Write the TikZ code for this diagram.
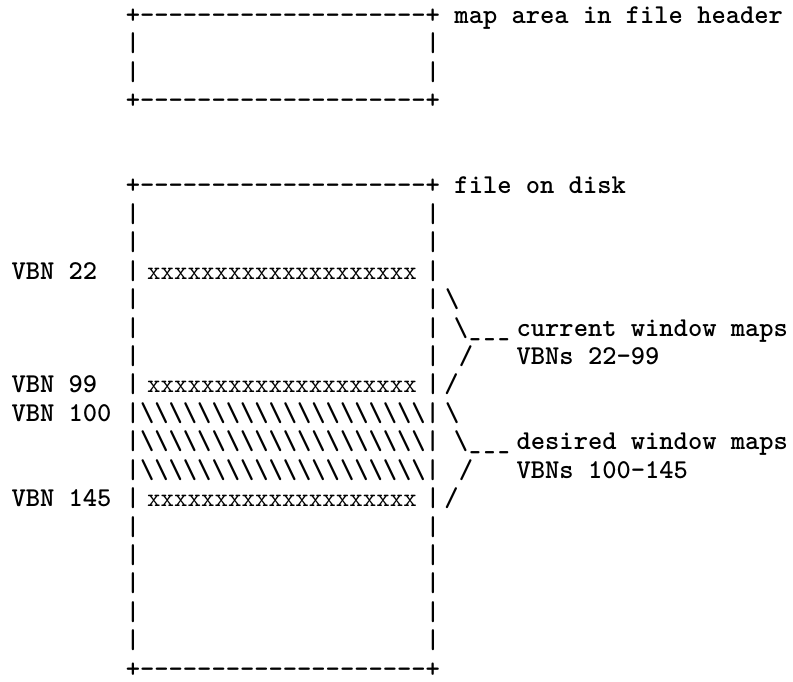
\documentclass[tikz,border=0pt]{standalone}
\usepackage{graphicx}
\def\L{11.5}
\def\P{14.29}
\def\B{23.3}
\def\H{28.43}
\def\hy{-\kern0pt}
\def\bs{\textbackslash}
\newcommand\us{\makebox[0.525em]{\scalebox{0.8}[1]{\_}}}
\newcommand\dashrow{+\hy\hy\hy\hy\hy\hy\hy\hy\hy\hy\hy\hy\hy\hy\hy\hy\hy\hy\hy\hy+}
\newcommand\bsrow{|\bs\bs\bs\bs\bs\bs\bs\bs\bs\bs\bs\bs\bs\bs\bs\bs\bs\bs\bs\bs|}
\newcommand\xrow{xxxxxxxxxxxxxxxxxxxx}
\tikzset{
  tt/.style={inner sep=0pt, outer sep=0pt, anchor=base west,
    font=\fontsize{13.6}{16}\selectfont\ttfamily\bfseries},
  xx/.style={inner sep=0pt, outer sep=0pt, anchor=base,
    font=\fontsize{13.1}{15}\selectfont\ttfamily},
}
% name, column, row, text
\newcommand\tl[4]{\node[tt] (#1) at ({\L+#2*\P},{\B+#3*\H}) {#4};}
\newcommand\bars[2]{\tl{l#1}{8}{#2}{|}\tl{r#1}{29}{#2}{|}}
\newcommand\xs[2]{\tl{l#1}{8}{#2}{|}\tl{r#1}{29}{#2}{|}%
  \node[xx] (x#1) at (282,{\B+#2*\H}) {\xrow};}
\begin{document}
\begin{tikzpicture}[x=0.5pt,y=-0.5pt]
\useasboundingbox (0,0) rectangle (793,681);
% header map box
\tl{h0}{8}{0}{\dashrow}
\tl{hlab}{31}{0}{map area in file header}
\bars{h1}{1}
\bars{h2}{2}
\tl{h3}{8}{3}{\dashrow}
% file on disk
\tl{f0}{8}{6}{\dashrow}
\tl{flab}{31}{6}{file on disk}
\bars{f7}{7}
\bars{f8}{8}
\tl{v22}{0}{9}{VBN 22}
\xs{f9}{9}
\bars{f10}{10}
\tl{c1}{30.35}{10}{\bs}
\bars{f11}{11}
\tl{c2}{30.95}{11}{\bs\us\us\us}
\tl{clab}{35.35}{11}{current window maps}
\bars{f12}{12}
\tl{c3}{31.3}{12}{/}
\tl{clab2}{35.35}{12}{VBNs 22-99}
\tl{v99}{0}{13}{VBN 99}
\xs{f13}{13}
\tl{c4}{30.3}{13}{/}
\tl{v100}{0}{14}{VBN 100}
\tl{f14}{8}{14}{\bsrow}
\tl{d1}{30.35}{14}{\bs}
\tl{f15}{8}{15}{\bsrow}
\tl{d2}{30.95}{15}{\bs\us\us\us}
\tl{dlab}{35.35}{15}{desired window maps}
\tl{f16}{8}{16}{\bsrow}
\tl{d3}{31.3}{16}{/}
\tl{dlab2}{35.35}{16}{VBNs 100-145}
\tl{v145}{0}{17}{VBN 145}
\xs{f17}{17}
\tl{d4}{30.3}{17}{/}
\bars{f18}{18}
\bars{f19}{19}
\bars{f20}{20}
\bars{f21}{21}
\bars{f22}{22}
\tl{f23}{8}{23}{\dashrow}
\end{tikzpicture}
\end{document}
